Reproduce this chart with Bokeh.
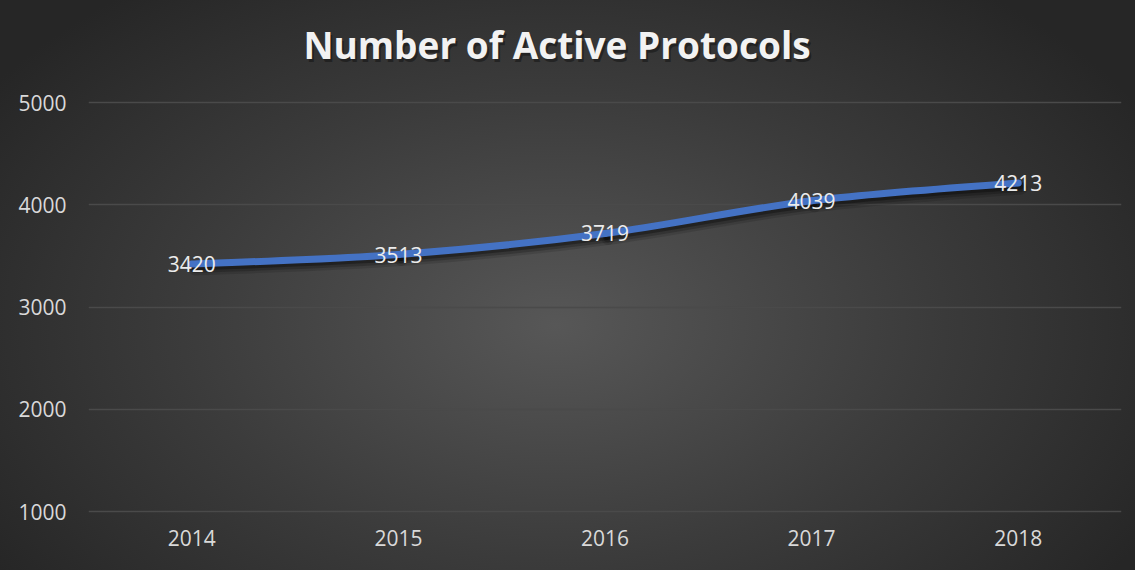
from bokeh.plotting import figure
from bokeh.models import Range1d, FixedTicker, Label, ColumnDataSource
from bokeh.core.properties import value
from bokeh.embed import file_html
from bokeh.resources import INLINE

years = ["2014", "2015", "2016", "2017", "2018"]
protocols = [3420, 3513, 3719, 4039, 4213]
y_ticks = [1000, 2000, 3000, 4000, 5000]
title_text = "Number of Active Protocols"

W, H = 1135, 570
FL, FR, FB = 88, 14, 56           # frame borders (px)
frame_h = H - FB                   # frame spans from top of figure
px_per_unit = 102.25 / 1000.0
y0 = 1000 - 3 / px_per_unit
y1 = y0 + frame_h / px_per_unit

xs = list(range(len(years)))

p = figure(width=W, height=H, output_backend="svg", toolbar_location=None,
           x_range=Range1d(-0.5, len(years) - 0.5), y_range=Range1d(y0, y1),
           min_border_left=FL, min_border_right=FR, min_border_bottom=FB,
           min_border_top=0)
p.title.visible = False
p.background_fill_color = None
p.border_fill_color = None
p.outline_line_color = None
p.styles = {"background": "radial-gradient(ellipse 60% 75% at 49% 57%, #575757 0%, #3b3b3b 55%, #262626 100%)"}

# axes
p.xaxis.ticker = FixedTicker(ticks=xs)
p.xaxis.major_label_overrides = {i: y for i, y in enumerate(years)}
p.yaxis.ticker = FixedTicker(ticks=y_ticks)
for ax in (p.xaxis[0], p.yaxis[0]):
    ax.axis_line_color = None
    ax.major_tick_line_color = None
    ax.minor_tick_line_color = None
    ax.major_tick_in = 0
    ax.major_tick_out = 0
    ax.major_label_text_font = "Open Sans"
    ax.major_label_text_font_size = "21px"
    ax.major_label_text_color = "#d9d9d9"
p.yaxis.major_label_standoff = 22
p.xaxis.major_label_standoff = 15
p.xgrid.grid_line_color = None
p.ygrid.ticker = FixedTicker(ticks=y_ticks)
p.ygrid.grid_line_color = "#4a4a4a"
p.ygrid.grid_line_width = 1.5

# smoothed line (Catmull-Rom -> Bezier, as Excel smoothing)
n = len(xs)
def pt(i):
    i = max(0, min(n - 1, i))
    return xs[i], protocols[i]
bx0, by0, bx1, by1, bcx0, bcy0, bcx1, bcy1 = [], [], [], [], [], [], [], []
for i in range(n - 1):
    pm, p0, p1, p2 = pt(i - 1), pt(i), pt(i + 1), pt(i + 2)
    bx0.append(p0[0]); by0.append(p0[1]); bx1.append(p1[0]); by1.append(p1[1])
    bcx0.append(p0[0] + (p1[0] - pm[0]) / 6); bcy0.append(p0[1] + (p1[1] - pm[1]) / 6)
    bcx1.append(p1[0] - (p2[0] - p0[0]) / 6); bcy1.append(p1[1] - (p2[1] - p0[1]) / 6)

# shadow
for dx, dy, a, w in [(3, 5, 0.12, 13), (3, 4, 0.2, 10), (2, 3, 0.3, 7)]:
    ddx = dx / 207.0
    ddy = dy / px_per_unit
    p.bezier(x0=[v + ddx for v in bx0], y0=[v - ddy for v in by0],
             x1=[v + ddx for v in bx1], y1=[v - ddy for v in by1],
             cx0=[v + ddx for v in bcx0], cy0=[v - ddy for v in bcy0],
             cx1=[v + ddx for v in bcx1], cy1=[v - ddy for v in bcy1],
             line_color="black", line_alpha=a, line_width=w, line_cap="round")

p.bezier(x0=bx0, y0=by0, x1=bx1, y1=by1, cx0=bcx0, cy0=bcy0, cx1=bcx1, cy1=bcy1,
         line_color="#4472C4", line_width=7, line_cap="round")

# data labels
src = ColumnDataSource(dict(x=xs, y=protocols, t=[str(v) for v in protocols]))
p.text(x="x", y="y", text="t", source=src, text_align="center", text_baseline="middle",
       text_font=value("Open Sans"), text_font_size="21px", text_color="#ececec")

# title (centred on the whole chart)
title_y = y1 - 44 / px_per_unit
tx = (len(years) - 1) / 2
p.add_layout(Label(x=tx, y=title_y - 3 / px_per_unit, text=title_text,
                   text_align="center", text_baseline="middle", text_font="Open Sans",
                   text_font_style="bold", text_font_size="37px", text_color="black",
                   text_alpha=0.35, x_offset=-46))
p.add_layout(Label(x=tx, y=title_y, text=title_text,
                   text_align="center", text_baseline="middle", text_font="Open Sans",
                   text_font_style="bold", text_font_size="37px", text_color="#f2f2f2",
                   x_offset=-48))

open("out.html", "w").write(file_html(p, INLINE))
